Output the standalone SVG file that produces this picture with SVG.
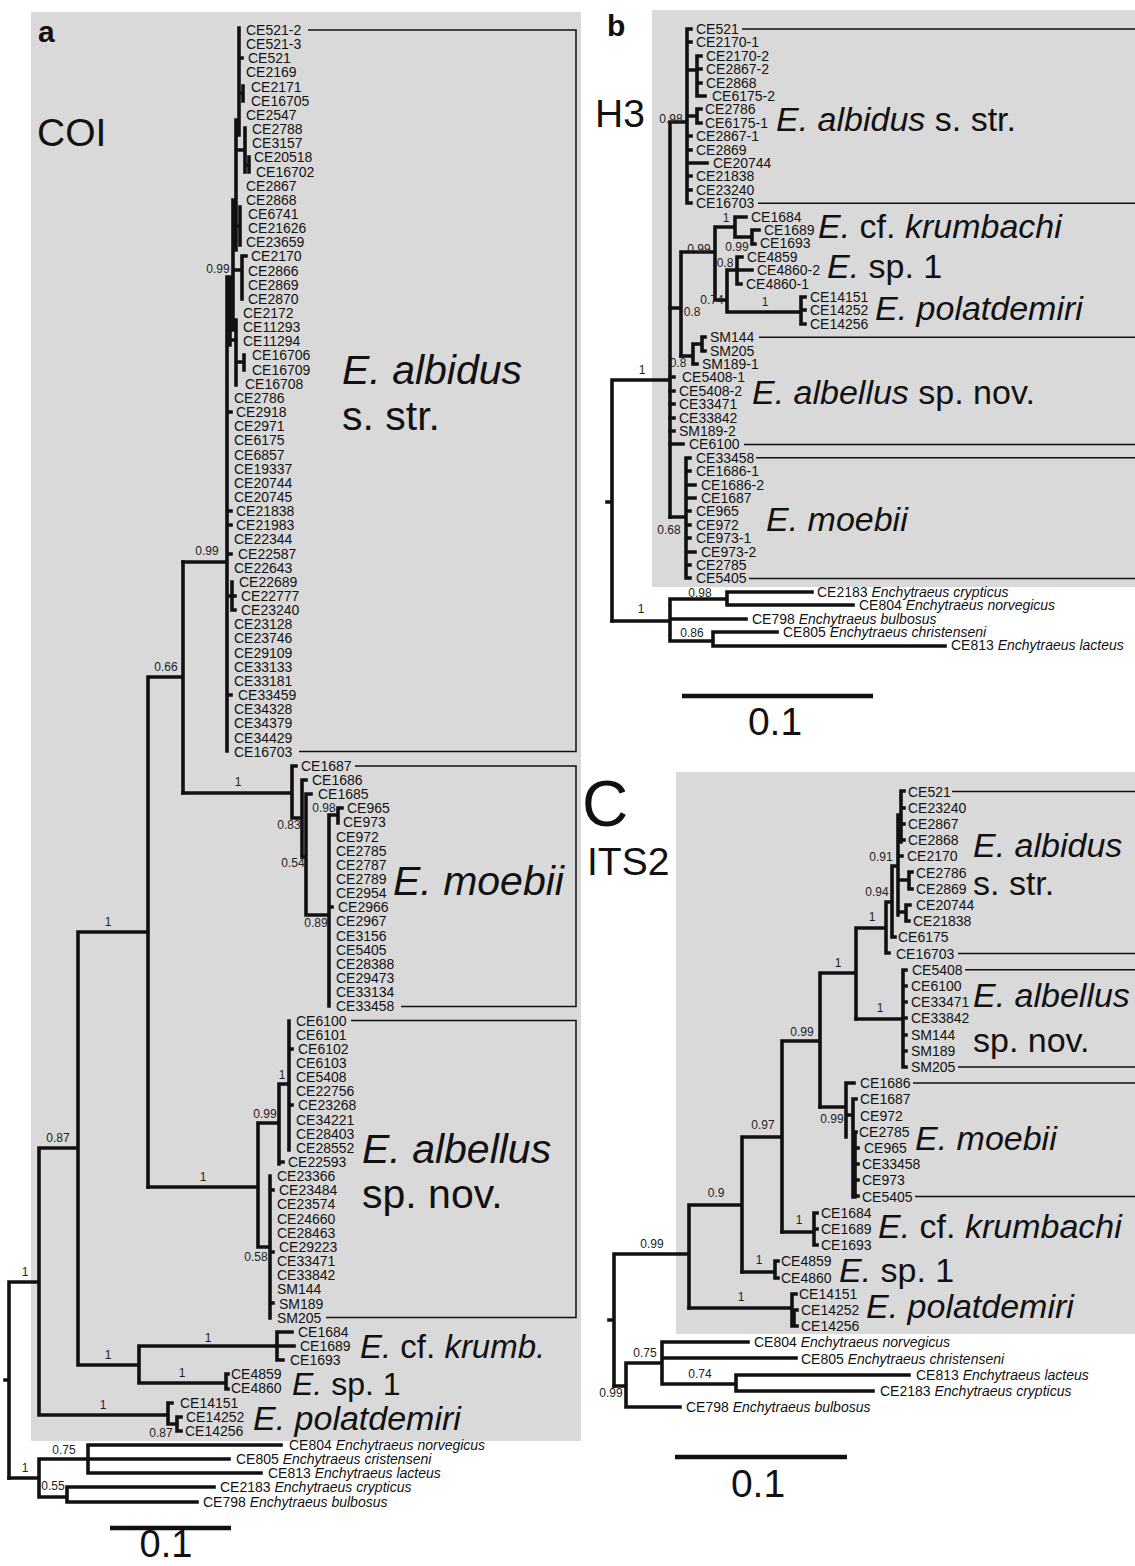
<svg xmlns="http://www.w3.org/2000/svg" width="1135" height="1566" viewBox="0 0 1135 1566">
<style>
.bg{fill:#d9d9d9}
.br{fill:none;stroke:#111;stroke-width:3.6;stroke-linecap:square}
.bx{fill:none;stroke:#111;stroke-width:1.5}
.sb{stroke:#111;stroke-width:4.5}
text{font-family:"Liberation Sans",Arial,sans-serif;fill:#111}
.t{font-size:14px}
.s{font-size:12px;text-anchor:middle;fill:#222}
.i{font-style:italic}
.L41{font-size:41px}
.L34{font-size:34px}
.L33{font-size:33px}
.L32{font-size:32px}
.pl{font-size:30px;font-weight:bold}
.gn{font-size:39px}
.sc{font-size:39px;text-anchor:middle}
</style>
<rect width="1135" height="1566" fill="#fff"/>
<rect class="bg" x="31" y="12" width="550" height="1429"/>
<rect class="bg" x="652" y="10" width="483" height="577"/>
<rect class="bg" x="676" y="772" width="459" height="562"/>

<!-- ================= PANEL A ================= -->
<g id="a-connectors">
<path class="br" d="M183 562H227M227 277V751M239 28V135M239 58H242M239 93H243M243 86V101M236 120V250M236 150H245M245 128V172M245 165H249M249 157V172M233 200V330M240 207V245M233 226H240M233 270H242M242 256V299M242 256H246M230 277V345M236 320V385M230 340H236M236 362H244M244 355V370M227 412H231M227 511H231M227 525H231M227 554H231M227 695H231M227 596H232M232 582V610M232 596H235M232 610H235"/>
<path class="br" d="M183 793H292M292 766V818M292 766H296M292 818H302M302 780V857M302 780H306M302 857H306M306 794V915M306 794H311M306 915H329M329 815V1006M329 815H338M338 808V823M338 808H342M329 907H332"/>
<path class="br" d="M148 1187H258M258 1123V1247M258 1123H279M279 1084V1164M279 1162H283M279 1084H289M289 1021V1150M289 1049H292M289 1105H292M258 1247H270M270 1176V1318M270 1190H273M270 1252H273M270 1303H273"/>
<path class="br" d="M148 677H183M183 562V793M148 677V1187M78 932H148M78 932V1365M39 1148H78M39 1148V1415M9 1282H39M9 1282V1478M5 1380H9M39 1415H168M168 1403V1424M168 1403H172M168 1424H177M177 1417V1431M177 1417H181M177 1431H181M78 1365H139M139 1346V1383M139 1346H277M277 1332V1360M277 1332H292M277 1346H294M277 1360H283M139 1383H226M226 1374V1389M226 1374H228M226 1389H228"/>
<path class="br" d="M9 1478H39M39 1459V1497M39 1459H88M88 1445V1473M88 1445H281M88 1459H229M88 1473H261M39 1497H67M67 1487V1502M67 1487H214M67 1502H197"/>
<path class="bx" d="M308 30H576V751.6H299M355 766H576V1006.4H401M351 1020.5H576V1317.6H326"/>
<line class="sb" x1="110" y1="1528" x2="231" y2="1528"/>
</g>
<text class="pl" x="38" y="42">a</text>
<text class="gn" x="37" y="146">COI</text>
<g id="a-albidus">
<text class="t" x="246" y="35">CE521-2</text>
<text class="t" x="246" y="49">CE521-3</text>
<text class="t" x="248" y="63">CE521</text>
<text class="t" x="246" y="77">CE2169</text>
<text class="t" x="251" y="92">CE2171</text>
<text class="t" x="251" y="106">CE16705</text>
<text class="t" x="246" y="120">CE2547</text>
<text class="t" x="252" y="134">CE2788</text>
<text class="t" x="252" y="148">CE3157</text>
<text class="t" x="254" y="162">CE20518</text>
<text class="t" x="256" y="177">CE16702</text>
<text class="t" x="246" y="191">CE2867</text>
<text class="t" x="246" y="205">CE2868</text>
<text class="t" x="248" y="219">CE6741</text>
<text class="t" x="248" y="233">CE21626</text>
<text class="t" x="246" y="247">CE23659</text>
<text class="t" x="251" y="261">CE2170</text>
<text class="t" x="248" y="276">CE2866</text>
<text class="t" x="248" y="290">CE2869</text>
<text class="t" x="248" y="304">CE2870</text>
<text class="t" x="243" y="318">CE2172</text>
<text class="t" x="243" y="332">CE11293</text>
<text class="t" x="243" y="346">CE11294</text>
<text class="t" x="252" y="360">CE16706</text>
<text class="t" x="252" y="375">CE16709</text>
<text class="t" x="245" y="389">CE16708</text>
<text class="t" x="234" y="403">CE2786</text>
<text class="t" x="236" y="417">CE2918</text>
<text class="t" x="234" y="431">CE2971</text>
<text class="t" x="234" y="445">CE6175</text>
<text class="t" x="234" y="460">CE6857</text>
<text class="t" x="234" y="474">CE19337</text>
<text class="t" x="234" y="488">CE20744</text>
<text class="t" x="234" y="502">CE20745</text>
<text class="t" x="236" y="516">CE21838</text>
<text class="t" x="236" y="530">CE21983</text>
<text class="t" x="234" y="544">CE22344</text>
<text class="t" x="238" y="559">CE22587</text>
<text class="t" x="234" y="573">CE22643</text>
<text class="t" x="239" y="587">CE22689</text>
<text class="t" x="241" y="601">CE22777</text>
<text class="t" x="241" y="615">CE23240</text>
<text class="t" x="234" y="629">CE23128</text>
<text class="t" x="234" y="643">CE23746</text>
<text class="t" x="234" y="658">CE29109</text>
<text class="t" x="234" y="672">CE33133</text>
<text class="t" x="234" y="686">CE33181</text>
<text class="t" x="238" y="700">CE33459</text>
<text class="t" x="234" y="714">CE34328</text>
<text class="t" x="234" y="728">CE34379</text>
<text class="t" x="234" y="743">CE34429</text>
<text class="t" x="234" y="757">CE16703</text>
<text class="L41" x="342" y="384"><tspan class="i">E. albidus</tspan></text>
<text class="L41" x="342" y="430">s. str.</text>
</g>
<g id="a-moebii">
<text class="t" x="301" y="771">CE1687</text>
<text class="t" x="312" y="785">CE1686</text>
<text class="t" x="318" y="799">CE1685</text>
<text class="t" x="347" y="813">CE965</text>
<text class="t" x="343" y="827">CE973</text>
<text class="t" x="336" y="842">CE972</text>
<text class="t" x="336" y="856">CE2785</text>
<text class="t" x="336" y="870">CE2787</text>
<text class="t" x="336" y="884">CE2789</text>
<text class="t" x="336" y="898">CE2954</text>
<text class="t" x="338" y="912">CE2966</text>
<text class="t" x="336" y="926">CE2967</text>
<text class="t" x="336" y="941">CE3156</text>
<text class="t" x="336" y="955">CE5405</text>
<text class="t" x="336" y="969">CE28388</text>
<text class="t" x="336" y="983">CE29473</text>
<text class="t" x="336" y="997">CE33134</text>
<text class="t" x="336" y="1011">CE33458</text>
<text class="L41" x="393" y="895"><tspan class="i">E. moebii</tspan></text>
</g>
<g id="a-albellus">
<text class="t" x="296" y="1026">CE6100</text>
<text class="t" x="296" y="1040">CE6101</text>
<text class="t" x="298" y="1054">CE6102</text>
<text class="t" x="296" y="1068">CE6103</text>
<text class="t" x="296" y="1082">CE5408</text>
<text class="t" x="296" y="1096">CE22756</text>
<text class="t" x="298" y="1110">CE23268</text>
<text class="t" x="296" y="1125">CE34221</text>
<text class="t" x="296" y="1139">CE28403</text>
<text class="t" x="296" y="1153">CE28552</text>
<text class="t" x="288" y="1167">CE22593</text>
<text class="t" x="277" y="1181">CE23366</text>
<text class="t" x="279" y="1195">CE23484</text>
<text class="t" x="277" y="1209">CE23574</text>
<text class="t" x="277" y="1224">CE24660</text>
<text class="t" x="277" y="1238">CE28463</text>
<text class="t" x="279" y="1252">CE29223</text>
<text class="t" x="277" y="1266">CE33471</text>
<text class="t" x="277" y="1280">CE33842</text>
<text class="t" x="277" y="1294">SM144</text>
<text class="t" x="279" y="1309">SM189</text>
<text class="t" x="277" y="1323">SM205</text>
<text class="L41" x="362" y="1163"><tspan class="i">E. albellus</tspan></text>
<text class="L41" x="362" y="1208">sp. nov.</text>
</g>
<g id="a-others">
<text class="t" x="298" y="1337">CE1684</text>
<text class="t" x="300" y="1351">CE1689</text>
<text class="t" x="290" y="1365">CE1693</text>
<text class="L33" x="360" y="1358"><tspan class="i">E.</tspan> cf. <tspan class="i">krumb.</tspan></text>
<text class="t" x="231" y="1379">CE4859</text>
<text class="t" x="231" y="1393">CE4860</text>
<text class="L32" x="292" y="1395"><tspan class="i">E.</tspan> sp. 1</text>
<text class="t" x="180" y="1408">CE14151</text>
<text class="t" x="186" y="1422">CE14252</text>
<text class="t" x="185" y="1436">CE14256</text>
<text class="L34" x="253" y="1430"><tspan class="i">E. polatdemiri</tspan></text>
<text class="t" x="289" y="1450">CE804 <tspan class="i">Enchytraeus norvegicus</tspan></text>
<text class="t" x="236" y="1464">CE805 <tspan class="i">Enchytraeus cristenseni</tspan></text>
<text class="t" x="268" y="1478">CE813 <tspan class="i">Enchytraeus lacteus</tspan></text>
<text class="t" x="220" y="1492">CE2183 <tspan class="i">Enchytraeus crypticus</tspan></text>
<text class="t" x="203" y="1507">CE798 <tspan class="i">Enchytraeus bulbosus</tspan></text>
</g>
<g id="a-support">
<text class="s" x="218" y="273">0.99</text>
<text class="s" x="207" y="555">0.99</text>
<text class="s" x="166" y="671">0.66</text>
<text class="s" x="238" y="786">1</text>
<text class="s" x="289" y="829">0.83</text>
<text class="s" x="293" y="867">0.54</text>
<text class="s" x="316" y="927">0.89</text>
<text class="s" x="324" y="812">0.98</text>
<text class="s" x="108" y="926">1</text>
<text class="s" x="203" y="1181">1</text>
<text class="s" x="265" y="1118">0.99</text>
<text class="s" x="282" y="1079">1</text>
<text class="s" x="256" y="1261">0.58</text>
<text class="s" x="58" y="1142">0.87</text>
<text class="s" x="25" y="1276">1</text>
<text class="s" x="108" y="1359">1</text>
<text class="s" x="208" y="1342">1</text>
<text class="s" x="182" y="1377">1</text>
<text class="s" x="103" y="1409">1</text>
<text class="s" x="161" y="1437">0.87</text>
<text class="s" x="64" y="1454">0.75</text>
<text class="s" x="25" y="1472">1</text>
<text class="s" x="53" y="1490">0.55</text>
</g>
<text class="sc" x="166" y="1557" style="font-size:38px">0.1</text>

<!-- ================= PANEL B ================= -->
<g id="b-connectors">
<path class="br" d="M612 380V621M607 502H612M612 380H670M670 122V517M670 122H687M687 29V203M687 29H691M687 42H691M687 136H691M687 150H691M687 176H691M687 190H691M687 203H691M687 70H697M697 56V96M697 56H701M697 69H701M697 83H701M697 96H705M687 116H697M697 109V123M697 109H701M697 123H701M687 163H707"/>
<path class="br" d="M670 308H681M681 252V356M681 252H715M715 227V300M715 227H735M735 217V237M735 217H746M735 237H752M752 230V244M752 230H759M752 244H755M715 300H727M727 270V312M727 270H737M737 257V284M737 257H742M737 270H752M737 284H741M727 312H801M801 297V324M801 297H805M801 310H805M801 324H805"/>
<path class="br" d="M681 356H693M693 344V364M693 364H697M693 344H702M702 337V351M702 337H705M702 351H705M670 377H674M670 391H674M670 404H674M670 418H674M670 431H674M670 444H683M670 517H686M686 458V578M686 458H690M686 471H690M686 485H695M686 498H695M686 511H690M686 525H690M686 538H690M686 552H695M686 565H690M686 578H690"/>
<path class="br" d="M612 621H670M670 599V641M670 599H727M727 592V605M727 592H812M727 605H853M670 619H746M670 641H713M713 632V646M713 632H777M713 646H945"/>
<path class="bx" d="M742 29H1135M758 203.2H1135M759 337.2H1135M744 444.4H1135M756 457.8H1135M749 578.4H1135"/>
<line class="sb" x1="682" y1="696" x2="873" y2="696"/>
</g>
<text class="pl" x="607" y="36">b</text>
<text class="gn" x="595" y="127">H3</text>
<g id="b-albidus">
<text class="t" x="696" y="34">CE521</text>
<text class="t" x="696" y="47">CE2170-1</text>
<text class="t" x="706" y="61">CE2170-2</text>
<text class="t" x="706" y="74">CE2867-2</text>
<text class="t" x="706" y="88">CE2868</text>
<text class="t" x="712" y="101">CE6175-2</text>
<text class="t" x="705" y="114">CE2786</text>
<text class="t" x="705" y="128">CE6175-1</text>
<text class="t" x="696" y="141">CE2867-1</text>
<text class="t" x="696" y="155">CE2869</text>
<text class="t" x="713" y="168">CE20744</text>
<text class="t" x="696" y="181">CE21838</text>
<text class="t" x="696" y="195">CE23240</text>
<text class="t" x="696" y="208">CE16703</text>
<text class="L34" x="776" y="131"><tspan class="i">E. albidus</tspan> s. str.</text>
</g>
<g id="b-krumbachi">
<text class="t" x="751" y="222">CE1684</text>
<text class="t" x="764" y="235">CE1689</text>
<text class="t" x="760" y="248">CE1693</text>
<text class="L34" x="818" y="238"><tspan class="i">E.</tspan> cf. <tspan class="i">krumbachi</tspan></text>
</g>
<g id="b-sp1">
<text class="t" x="747" y="262">CE4859</text>
<text class="t" x="757" y="275">CE4860-2</text>
<text class="t" x="746" y="289">CE4860-1</text>
<text class="L34" x="827" y="278"><tspan class="i">E.</tspan> sp. 1</text>
</g>
<g id="b-polatdemiri">
<text class="t" x="810" y="302">CE14151</text>
<text class="t" x="810" y="315">CE14252</text>
<text class="t" x="810" y="329">CE14256</text>
<text class="L34" x="875" y="320"><tspan class="i">E. polatdemiri</tspan></text>
</g>
<g id="b-albellus">
<text class="t" x="710" y="342">SM144</text>
<text class="t" x="710" y="356">SM205</text>
<text class="t" x="702" y="369">SM189-1</text>
<text class="t" x="682" y="382">CE5408-1</text>
<text class="t" x="679" y="396">CE5408-2</text>
<text class="t" x="679" y="409">CE33471</text>
<text class="t" x="679" y="423">CE33842</text>
<text class="t" x="679" y="436">SM189-2</text>
<text class="t" x="689" y="449">CE6100</text>
<text class="L34" x="752" y="404"><tspan class="i">E. albellus</tspan> sp. nov.</text>
</g>
<g id="b-moebii">
<text class="t" x="696" y="463">CE33458</text>
<text class="t" x="696" y="476">CE1686-1</text>
<text class="t" x="701" y="490">CE1686-2</text>
<text class="t" x="701" y="503">CE1687</text>
<text class="t" x="696" y="516">CE965</text>
<text class="t" x="696" y="530">CE972</text>
<text class="t" x="696" y="543">CE973-1</text>
<text class="t" x="701" y="557">CE973-2</text>
<text class="t" x="696" y="570">CE2785</text>
<text class="t" x="696" y="583">CE5405</text>
<text class="L34" x="766" y="531"><tspan class="i">E. moebii</tspan></text>
</g>
<g id="b-outgroup">
<text class="t" x="817" y="597">CE2183 <tspan class="i">Enchytraeus crypticus</tspan></text>
<text class="t" x="859" y="610">CE804 <tspan class="i">Enchytraeus norvegicus</tspan></text>
<text class="t" x="752" y="624">CE798 <tspan class="i">Enchytraeus bulbosus</tspan></text>
<text class="t" x="783" y="637">CE805 <tspan class="i">Enchytraeus christenseni</tspan></text>
<text class="t" x="951" y="650">CE813 <tspan class="i">Enchytraeus lacteus</tspan></text>
</g>
<g id="b-support">
<text class="s" x="671" y="123">0.98</text>
<text class="s" x="699" y="253">0.99</text>
<text class="s" x="726" y="222">1</text>
<text class="s" x="737" y="251">0.99</text>
<text class="s" x="725" y="267">0.8</text>
<text class="s" x="712" y="304">0.74</text>
<text class="s" x="692" y="316">0.8</text>
<text class="s" x="765" y="306">1</text>
<text class="s" x="642" y="374">1</text>
<text class="s" x="678" y="367">0.8</text>
<text class="s" x="669" y="534">0.68</text>
<text class="s" x="641" y="613">1</text>
<text class="s" x="700" y="597">0.98</text>
<text class="s" x="692" y="637">0.86</text>
</g>
<text class="sc" x="775" y="735">0.1</text>

<!-- ================= PANEL C ================= -->
<g id="c-connectors">
<path class="br" d="M614 1254V1386M609 1320H614M614 1254H689M689 1205V1308M689 1205H742M742 1137V1272M742 1137H782M782 1041V1232M782 1041H820M820 973V1107M820 973H856M856 928V1019M856 928H886M886 902V953M886 953H889M886 902H892M892 866V937M892 937H895M892 866H898M898 815V915M898 830H901M901 791V842M901 791H904M901 808H904M901 824H904M901 840H904M898 856H902M898 880H909M909 872V889M909 872H912M909 889H912M898 912H906M906 905V921M906 905H910M906 921H909"/>
<path class="br" d="M856 1019H903M903 970V1067M903 970H906M903 986H906M903 1002H906M903 1018H906M903 1035H906M903 1051H906M903 1067H906M820 1107H846M846 1083V1137M846 1083H854M846 1115H853M853 1099V1197M855 1133V1197M853 1099H856M853 1132H856M853 1148H858M855 1164H858M855 1180H858M855 1196H858"/>
<path class="br" d="M782 1232H814M814 1213V1245M814 1213H817M814 1229H817M814 1245H817M742 1272H775M775 1261V1278M775 1261H778M775 1278H778M689 1308H792M792 1294V1326M794 1310V1326M792 1294H796M794 1310H797M794 1326H797"/>
<path class="br" d="M614 1386H626M626 1363V1407M626 1363H662M662 1342V1384M662 1342H748M662 1358H796M662 1384H736M736 1375V1391M736 1375H909M736 1391H873M626 1407H680"/>
<path class="bx" d="M952 791.5H1135M958 953.5H1135M965 969.7H1135M958 1066.9H1135M913 1083.1H1135M915 1196.5H1135"/>
<line class="sb" x1="675" y1="1457" x2="847" y2="1457"/>
</g>
<text x="582" y="826" style="font-size:64px">C</text>
<text class="gn" x="587" y="875">ITS2</text>
<g id="c-albidus">
<text class="t" x="908" y="797">CE521</text>
<text class="t" x="908" y="813">CE23240</text>
<text class="t" x="908" y="829">CE2867</text>
<text class="t" x="908" y="845">CE2868</text>
<text class="t" x="907" y="861">CE2170</text>
<text class="t" x="916" y="878">CE2786</text>
<text class="t" x="916" y="894">CE2869</text>
<text class="t" x="916" y="910">CE20744</text>
<text class="t" x="913" y="926">CE21838</text>
<text class="t" x="898" y="942">CE6175</text>
<text class="t" x="896" y="959">CE16703</text>
<text class="L34" x="973" y="857"><tspan class="i">E. albidus</tspan></text>
<text class="L34" x="973" y="895">s. str.</text>
</g>
<g id="c-albellus">
<text class="t" x="912" y="975">CE5408</text>
<text class="t" x="911" y="991">CE6100</text>
<text class="t" x="911" y="1007">CE33471</text>
<text class="t" x="911" y="1023">CE33842</text>
<text class="t" x="911" y="1040">SM144</text>
<text class="t" x="911" y="1056">SM189</text>
<text class="t" x="911" y="1072">SM205</text>
<text class="L34" x="973" y="1007"><tspan class="i">E. albellus</tspan></text>
<text class="L34" x="973" y="1052">sp. nov.</text>
</g>
<g id="c-moebii">
<text class="t" x="860" y="1088">CE1686</text>
<text class="t" x="860" y="1104">CE1687</text>
<text class="t" x="860" y="1121">CE972</text>
<text class="t" x="859" y="1137">CE2785</text>
<text class="t" x="864" y="1153">CE965</text>
<text class="t" x="862" y="1169">CE33458</text>
<text class="t" x="862" y="1185">CE973</text>
<text class="t" x="862" y="1202">CE5405</text>
<text class="L34" x="915" y="1150"><tspan class="i">E. moebii</tspan></text>
</g>
<g id="c-krumbachi">
<text class="t" x="821" y="1218">CE1684</text>
<text class="t" x="821" y="1234">CE1689</text>
<text class="t" x="821" y="1250">CE1693</text>
<text class="L34" x="878" y="1238"><tspan class="i">E.</tspan> cf. <tspan class="i">krumbachi</tspan></text>
</g>
<g id="c-sp1">
<text class="t" x="781" y="1266">CE4859</text>
<text class="t" x="781" y="1283">CE4860</text>
<text class="L34" x="839" y="1282"><tspan class="i">E.</tspan> sp. 1</text>
</g>
<g id="c-polatdemiri">
<text class="t" x="799" y="1299">CE14151</text>
<text class="t" x="801" y="1315">CE14252</text>
<text class="t" x="801" y="1331">CE14256</text>
<text class="L34" x="866" y="1318"><tspan class="i">E. polatdemiri</tspan></text>
</g>
<g id="c-outgroup">
<text class="t" x="754" y="1347">CE804 <tspan class="i">Enchytraeus norvegicus</tspan></text>
<text class="t" x="801" y="1364">CE805 <tspan class="i">Enchytraeus christenseni</tspan></text>
<text class="t" x="916" y="1380">CE813 <tspan class="i">Enchytraeus lacteus</tspan></text>
<text class="t" x="880" y="1396">CE2183 <tspan class="i">Enchytraeus crypticus</tspan></text>
<text class="t" x="686" y="1412">CE798 <tspan class="i">Enchytraeus bulbosus</tspan></text>
</g>
<g id="c-support">
<text class="s" x="881" y="861">0.91</text>
<text class="s" x="877" y="896">0.94</text>
<text class="s" x="872" y="921">1</text>
<text class="s" x="880" y="1012">1</text>
<text class="s" x="838" y="967">1</text>
<text class="s" x="802" y="1036">0.99</text>
<text class="s" x="832" y="1123">0.99</text>
<text class="s" x="763" y="1129">0.97</text>
<text class="s" x="799" y="1224">1</text>
<text class="s" x="716" y="1197">0.9</text>
<text class="s" x="759" y="1264">1</text>
<text class="s" x="652" y="1248">0.99</text>
<text class="s" x="741" y="1301">1</text>
<text class="s" x="645" y="1357">0.75</text>
<text class="s" x="700" y="1378">0.74</text>
<text class="s" x="611" y="1397">0.99</text>
</g>
<text class="sc" x="758" y="1497">0.1</text>
</svg>
